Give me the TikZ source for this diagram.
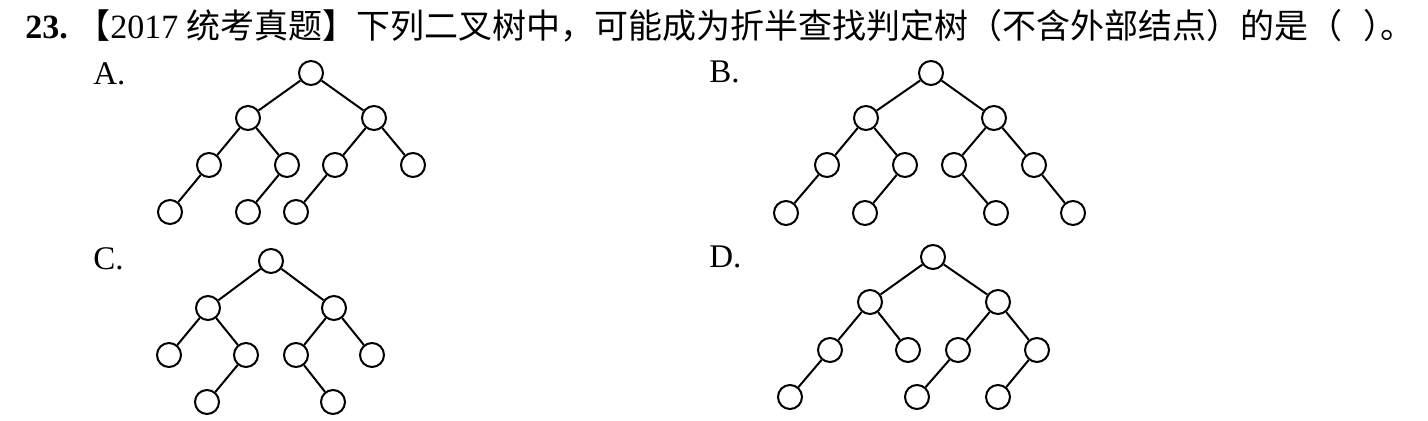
\documentclass[tikz,border=0pt]{standalone}
\usepackage{fontspec}
\setmainfont{Liberation Serif}
\newfontfamily\cjk{Noto Sans CJK SC}
\usepackage{tikz}
\usetikzlibrary{positioning,calc}

\begin{document}
\begin{tikzpicture}[x=0.5pt,y=-0.5pt,
    treeNode/.style={draw,circle,minimum size=12pt,inner sep=0pt,line width=1pt},
    treeEdge/.style={line width=1pt},
    optLabel/.style={anchor=base west,font=\fontsize{16.5}{20}\selectfont}]
                \useasboundingbox (0,0) rectangle (1428,421);
                \node[anchor=base west,font=\fontsize{17}{20}\selectfont,inner sep=0pt] (title) at (25,39)
                    {\textbf{23.}\ {\cjk 【}2017 {\cjk 统考真题】下列二叉树中，可能成为折半查找判定树（不含外部结点）的是（\hspace{0.6em}）\kern-0.5em 。}};
                
                % Tree A
                \node[optLabel,inner sep=0pt] (labA) at (93,85) {A.};
                \node[treeNode] (a0) at (311,73) {};
                \node[treeNode] (a1) at (248,118) {};
                \node[treeNode] (a2) at (374,118) {};
                \node[treeNode] (a3) at (209,165) {};
                \node[treeNode] (a4) at (287,165) {};
                \node[treeNode] (a5) at (335,165) {};
                \node[treeNode] (a6) at (413,165) {};
                \node[treeNode] (a7) at (170,212) {};
                \node[treeNode] (a8) at (248,212) {};
                \node[treeNode] (a9) at (296,212) {};
                \draw[treeEdge] (a0) -- (a1);
                \draw[treeEdge] (a0) -- (a2);
                \draw[treeEdge] (a1) -- (a3);
                \draw[treeEdge] (a1) -- (a4);
                \draw[treeEdge] (a2) -- (a5);
                \draw[treeEdge] (a2) -- (a6);
                \draw[treeEdge] (a3) -- (a7);
                \draw[treeEdge] (a4) -- (a8);
                \draw[treeEdge] (a5) -- (a9);
                
                % Tree B
                \node[optLabel,inner sep=0pt] (labB) at (709,83) {B.};
                \node[treeNode] (b0) at (931,73) {};
                \node[treeNode] (b1) at (866,118) {};
                \node[treeNode] (b2) at (994,118) {};
                \node[treeNode] (b3) at (827,165) {};
                \node[treeNode] (b4) at (905,165) {};
                \node[treeNode] (b5) at (954,165) {};
                \node[treeNode] (b6) at (1034,165) {};
                \node[treeNode] (b7) at (786,213) {};
                \node[treeNode] (b8) at (865,213) {};
                \node[treeNode] (b9) at (996,213) {};
                \node[treeNode] (b10) at (1073,213) {};
                \draw[treeEdge] (b0) -- (b1);
                \draw[treeEdge] (b0) -- (b2);
                \draw[treeEdge] (b1) -- (b3);
                \draw[treeEdge] (b1) -- (b4);
                \draw[treeEdge] (b2) -- (b5);
                \draw[treeEdge] (b2) -- (b6);
                \draw[treeEdge] (b3) -- (b7);
                \draw[treeEdge] (b4) -- (b8);
                \draw[treeEdge] (b5) -- (b9);
                \draw[treeEdge] (b6) -- (b10);
                
                % Tree C
                \node[optLabel,inner sep=0pt] (labC) at (93,270) {C.};
                \node[treeNode] (c0) at (271,261) {};
                \node[treeNode] (c1) at (208,308) {};
                \node[treeNode] (c2) at (334,308) {};
                \node[treeNode] (c3) at (169,355) {};
                \node[treeNode] (c4) at (246,355) {};
                \node[treeNode] (c5) at (296,355) {};
                \node[treeNode] (c6) at (372,355) {};
                \node[treeNode] (c7) at (207,402) {};
                \node[treeNode] (c8) at (333,402) {};
                \draw[treeEdge] (c0) -- (c1);
                \draw[treeEdge] (c0) -- (c2);
                \draw[treeEdge] (c1) -- (c3);
                \draw[treeEdge] (c1) -- (c4);
                \draw[treeEdge] (c2) -- (c5);
                \draw[treeEdge] (c2) -- (c6);
                \draw[treeEdge] (c4) -- (c7);
                \draw[treeEdge] (c5) -- (c8);
                
                % Tree D
                \node[optLabel,inner sep=0pt] (labD) at (709,268) {D.};
                \node[treeNode] (d0) at (933,257) {};
                \node[treeNode] (d1) at (870,302) {};
                \node[treeNode] (d2) at (998,302) {};
                \node[treeNode] (d3) at (830,350) {};
                \node[treeNode] (d4) at (908,350) {};
                \node[treeNode] (d5) at (958,350) {};
                \node[treeNode] (d6) at (1037,350) {};
                \node[treeNode] (d7) at (790,397) {};
                \node[treeNode] (d8) at (917,397) {};
                \node[treeNode] (d9) at (998,397) {};
                \draw[treeEdge] (d0) -- (d1);
                \draw[treeEdge] (d0) -- (d2);
                \draw[treeEdge] (d1) -- (d3);
                \draw[treeEdge] (d1) -- (d4);
                \draw[treeEdge] (d2) -- (d5);
                \draw[treeEdge] (d2) -- (d6);
                \draw[treeEdge] (d3) -- (d7);
                \draw[treeEdge] (d5) -- (d8);
                \draw[treeEdge] (d6) -- (d9);
\end{tikzpicture}
\end{document}
